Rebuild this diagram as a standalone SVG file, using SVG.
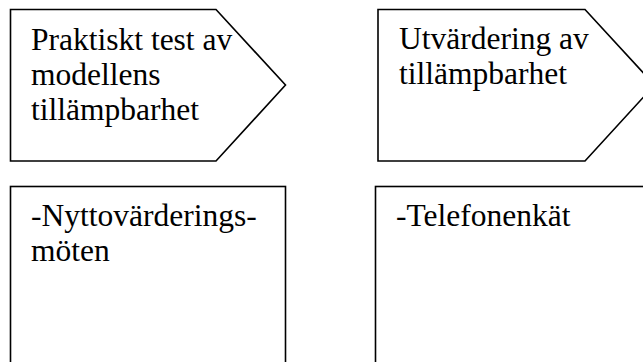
<svg xmlns="http://www.w3.org/2000/svg" width="643" height="362" viewBox="0 0 643 362">
  <style>
    .shape { fill: #ffffff; stroke: #000000; stroke-width: 1.6; stroke-linejoin: miter; }
    .label { font-size: 31.5px; fill: #000000; }
  </style>
  <rect width="643" height="362" fill="#ffffff"/>
  <!-- phase headers -->
  <g id="phase-test" font-family="'Liberation Serif', 'Times New Roman', Times, 'DejaVu Serif', serif">
    <polygon class="shape" points="10.5,9.5 216,9.5 285.5,85 216,161 10.5,161"/>
    <text class="label" x="31" y="49.5">Praktiskt test av</text>
    <text class="label" x="31" y="84.5">modellens</text>
    <text class="label" x="31" y="119.5">tillämpbarhet</text>
  </g>
  <g id="phase-evaluation" font-family="'Liberation Serif', 'Times New Roman', Times, 'DejaVu Serif', serif">
    <polygon class="shape" points="378,9.5 585,9.5 654.5,85 585,161 378,161"/>
    <text class="label" x="399" y="49">Utvärdering av</text>
    <text class="label" x="399" y="84">tillämpbarhet</text>
  </g>
  <!-- activity boxes -->
  <g id="activity-meetings" font-family="'Liberation Serif', 'Times New Roman', Times, 'DejaVu Serif', serif">
    <rect class="shape" x="10.5" y="186.5" width="275" height="190"/>
    <text class="label" x="31" y="225.5">-Nyttovärderings-</text>
    <text class="label" x="31" y="260.5">möten</text>
  </g>
  <g id="activity-survey" font-family="'Liberation Serif', 'Times New Roman', Times, 'DejaVu Serif', serif">
    <rect class="shape" x="375.5" y="186.5" width="290" height="190"/>
    <text class="label" x="396" y="226">-Telefonenkät</text>
  </g>
  <g id="connectors"></g>
</svg>
